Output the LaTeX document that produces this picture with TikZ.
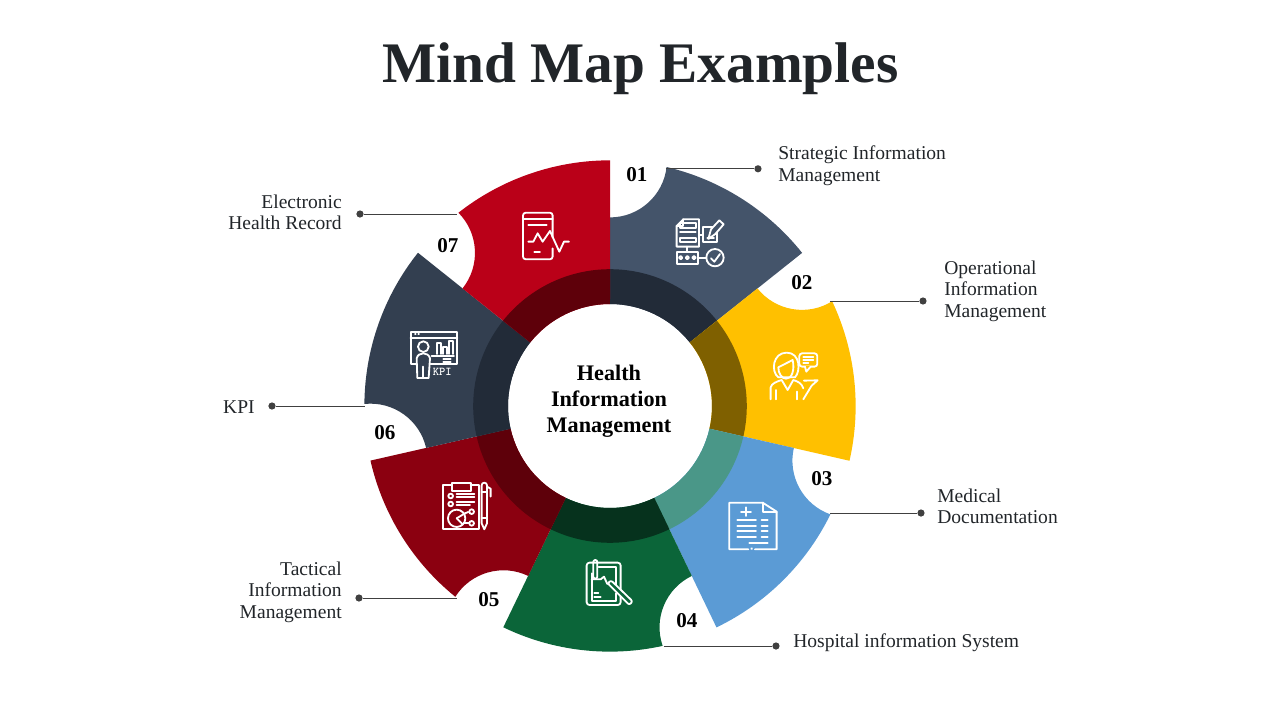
\documentclass[tikz,border=0pt]{standalone}
\usepackage{fontspec}
\setmainfont{Liberation Serif}
\definecolor{segone}{HTML}{44546A}
\definecolor{segtwo}{HTML}{FFC000}
\definecolor{segthree}{HTML}{5B9BD5}
\definecolor{segfour}{HTML}{0B6539}
\definecolor{segfive}{HTML}{8B0010}
\definecolor{segsix}{HTML}{333F50}
\definecolor{segseven}{HTML}{BA0018}
\definecolor{ringone}{HTML}{222B38}
\definecolor{ringtwo}{HTML}{7F6000}
\definecolor{ringthree}{HTML}{4A9788}
\definecolor{ringfour}{HTML}{06321D}
\definecolor{ringfive}{HTML}{5E000A}
\definecolor{inkdark}{HTML}{212529}
\definecolor{leadgrey}{HTML}{404040}
\tikzset{
	leader/.style={leadgrey,line width=0.7pt},
	leaddot/.style={circle,fill=leadgrey,inner sep=0pt,minimum size=0.18cm},
	numlabel/.style={font=\fontsize{15}{18}\selectfont\bfseries,text=black},
	sidelabel/.style={font=\fontsize{13.9}{15.3}\selectfont,text=inkdark},
	iconat/.style 2 args={shift={({(#1-610)/40},{(406-#2)/40})},x=1cm/120,y=-1cm/120,draw=white,line width=1.3pt,line join=round,line cap=round},
}
\newcommand{\wheelseg}[3]{
	\fill[#2] (#1:4.715) arc[start angle=#1+180,end angle=#1+263.35,radius=1.425] arc[start angle=#1-13.3,end angle=#1-51.43,radius=6.14] -- (#1-51.43:2.55) arc[start angle=#1-51.43,end angle=#1,radius=2.55] -- cycle;
	\fill[#3] (#1:2.55) arc[start angle=#1,end angle=#1-51.43,radius=2.55] -- (#1-51.43:3.42) arc[start angle=#1-51.43,end angle=#1,radius=3.42] -- cycle;
}
\begin{document}
\begin{tikzpicture}
	\useasboundingbox (-15.25,10.15) rectangle (16.75,-7.85);
	\node[font=\fontsize{40.8}{48}\selectfont\bfseries,text=inkdark] (title) at (0.76,8.44) {Mind Map Examples};
	% wheel
	\wheelseg{90}{segone}{ringone}
	\wheelseg{38.57}{segtwo}{ringtwo}
	\wheelseg{-12.86}{segthree}{ringthree}
	\wheelseg{-64.29}{segfour}{ringfour}
	\wheelseg{-115.71}{segfive}{ringfive}
	\wheelseg{-167.14}{segsix}{ringone}
	\wheelseg{-218.57}{segseven}{ringfive}
	\node[align=center,font=\fontsize{15.8}{18.5}\selectfont\bfseries,text=black] (hub) at (-0.025,0.11) {Health\\Information\\Management};
	% numbers
	\node[numlabel] (num1) at (0.67,5.78) {01};
	\node[numlabel] (num2) at (4.8,3.08) {02};
	\node[numlabel] (num3) at (5.3,-1.82) {03};
	\node[numlabel] (num4) at (1.925,-5.37) {04};
	\node[numlabel] (num5) at (-3.025,-4.84) {05};
	\node[numlabel] (num6) at (-5.625,-0.66) {06};
	\node[numlabel] (num7) at (-4.05,4.01) {07};
	% leaders
	\coordinate (start1) at (1.4,5.93);
	\coordinate (start2) at (5.5,2.625);
	\coordinate (start3) at (5.5,-2.675);
	\coordinate (start4) at (1.35,-6);
	\coordinate (start5) at (-3.825,-4.8);
	\coordinate (start6) at (-6.125,0);
	\coordinate (start7) at (-3.825,4.8);
	\node[leaddot] (dot1) at (3.7,5.93) {};
	\node[leaddot] (dot2) at (7.825,2.625) {};
	\node[leaddot] (dot3) at (7.775,-2.675) {};
	\node[leaddot] (dot4) at (4.15,-6) {};
	\node[leaddot] (dot5) at (-6.275,-4.8) {};
	\node[leaddot] (dot6) at (-8.45,0) {};
	\node[leaddot] (dot7) at (-6.25,4.8) {};
	\draw[leader] (start1) -- (dot1);
	\draw[leader] (start2) -- (dot2);
	\draw[leader] (start3) -- (dot3);
	\draw[leader] (start4) -- (dot4);
	\draw[leader] (start5) -- (dot5);
	\draw[leader] (start6) -- (dot6);
	\draw[leader] (start7) -- (dot7);
	% labels
	\node[sidelabel,anchor=west,align=left,inner sep=0pt] (lab1) at (4.2,6.01) {Strategic Information\\Management};
	\node[sidelabel,anchor=west,align=left,inner sep=0pt] (lab2) at (8.35,2.875) {Operational\\Information\\Management};
	\node[sidelabel,anchor=west,align=left,inner sep=0pt] (lab3) at (8.175,-2.51) {Medical\\Documentation};
	\node[sidelabel,anchor=west,align=left,inner sep=0pt] (lab4) at (4.575,-5.925) {Hospital information System};
	\node[sidelabel,anchor=east,align=right,inner sep=0pt] (lab5) at (-6.7,-4.65) {Tactical\\Information\\Management};
	\node[sidelabel,anchor=east,align=right,inner sep=0pt] (lab6) at (-8.875,-0.025) {KPI};
	\node[sidelabel,anchor=east,align=right,inner sep=0pt] (lab7) at (-6.7,4.84) {Electronic\\Health Record};
	% icon 1
	\begin{scope}[iconat={600}{140}]
		\draw (230,258) -- (250,238) -- (297,238) -- (297,320) -- (230,320) -- cycle;
		\draw (250,238) -- (250,258) -- (230,258);
		\draw (240,250) rectangle (287,265);
		\draw (240,275) -- (287,275);
		\draw (240,295) rectangle (287,306);
		\draw (297,285) -- (308,285);
		\draw (308,262) rectangle (352,305);
		\draw[fill=segone] (325,297) -- (333,268) -- (358,241) -- (371,253) -- (346,282) -- cycle;
		\draw (322,293) -- (342,293);
		\draw (262,320) -- (262,335);
		\draw (230,335) rectangle (295,372);
		\draw (242,353) circle (5);
		\draw (262,353) circle (5);
		\draw (282,353) circle (5);
		\draw (295,353) -- (319,353);
		\draw (345,353) circle (26);
		\draw (333,355) -- (343,365) -- (360,342);
	\end{scope}
	% icon 2
	\begin{scope}[iconat={600}{140}]
		\draw (535,712) .. controls (512,695) and (518,638) .. (560,638) .. controls (602,638) and (602,695) .. (585,712) -- cycle;
		\draw (535,682) -- (578,660) .. controls (585,690) and (575,718) .. (558,716) .. controls (545,716) and (535,700) .. (535,682);
		\draw (512,778) -- (512,742) .. controls (515,730) and (530,725) .. (545,720) -- (563,750) -- (580,720) .. controls (595,725) and (605,730) .. (610,745);
		\draw (527,750) -- (527,778);
		\draw (590,755) -- (590,778);
		\draw (610,778) -- (635,737) -- (653,721) -- (612,722);
		\draw[rounded corners=2pt] (598,640) rectangle (652,680);
		\draw[fill=segtwo,draw=segtwo] (619,680) -- (630,680);
		\draw (615,680) -- (619,695) -- (632,680);
		\draw (610,650) -- (640,650);
		\draw (610,660) -- (640,660);
		\draw (610,669) -- (625,669);
	\end{scope}
	% icon 3
	\begin{scope}[iconat={640}{430}]
		\draw (325,358) -- (268,358) -- (268,218) -- (368,218) -- (410,245) -- (410,358) -- (345,358);
		\draw (335,356) circle (1);
		\draw (368,218) -- (368,245) -- (410,245);
		\draw (303,245) -- (333,245);
		\draw (318,232) -- (318,258);
		\draw (292,270) -- (348,270);
		\draw (292,288) -- (348,288);
		\draw (292,304) -- (348,304);
		\draw (292,320) -- (348,320);
		\draw (365,270) -- (383,270);
		\draw (365,288) -- (383,288);
		\draw (365,304) -- (383,304);
		\draw (365,320) -- (383,320);
		\draw (328,338) -- (383,338);
	\end{scope}
	% icon 4
	\begin{scope}[iconat={360}{430}]
		\draw[rounded corners=2pt] (680,398) rectangle (782,525);
		\draw (716,410) -- (768,410) -- (768,475);
		\draw (695,430) -- (695,512) -- (768,512) -- (768,490);
		\draw (695,448) -- (722,448) -- (732,440) -- (742,462);
		\draw (700,440) -- (700,396) arc[start angle=180,end angle=360,radius=6] -- (712,440) arc[start angle=0,end angle=180,radius=6];
		\draw (703,489) -- (715,489);
		\draw (703,500) -- (722,500);
		\draw[fill=segfour,rounded corners=1.5pt] (743,460) -- (753,451) -- (818,514) -- (808,525) -- cycle;
	\end{scope}
	% icon 5
	\begin{scope}[iconat={360}{430}]
		\draw (275,165) -- (250,165) -- (250,298) -- (357,298) -- (357,165) -- (332,165);
		\draw (275,158) rectangle (332,183);
		\draw (272,198) circle (7);
		\draw (272,222) circle (7);
		\draw (290,193) -- (343,193);
		\draw (290,200) -- (343,200);
		\draw (290,217) -- (343,217);
		\draw (290,225) -- (330,225);
		\draw (290,265) circle (26);
		\draw (290,265) -- (315,250);
		\draw (290,265) -- (308,283);
		\draw (315,250) -- (325,246);
		\draw (312,280) -- (327,280);
		\draw (335,245) circle (7);
		\draw (335,280) circle (7);
		\draw (365,280) -- (365,166) arc[start angle=180,end angle=360,radius=8] -- (381,280) -- (373,298) -- cycle;
		\draw (365,185) -- (381,185);
		\draw (365,265) -- (381,265);
		\draw (381,170) -- (392,176) -- (392,200);
	\end{scope}
	% icon 6
	\begin{scope}[iconat={360}{150}]
		\draw (170,642) -- (152,642) -- (152,545) -- (292,545) -- (292,642) -- (212,642);
		\draw (152,565) -- (292,565);
		\draw (165,553) -- (167,553);
		\draw (175,553) -- (177,553);
		\draw (190,590) circle (16);
		\draw (170,625) .. controls (175,605) and (205,605) .. (210,625) -- (206,684) -- (172,684) -- cycle;
		\draw (190,650) -- (190,684);
		\draw (230,612) -- (230,578) -- (243,578) -- (243,612);
		\draw (250,612) -- (250,590) -- (262,590) -- (262,612);
		\draw (268,612) -- (268,572) -- (280,572) -- (280,612);
		\draw (215,618) -- (282,618);
		\draw (250,628) -- (272,628);
		\draw (250,636) -- (272,636);
		\node[text=white,inner sep=0pt,font=\ttfamily\bfseries\fontsize{8.5}{9}\selectfont] (kpi) at (247,665) {KPI};
	\end{scope}
	% icon 7
	\begin{scope}[iconat={360}{150}]
		\draw[rounded corners=2pt] (578,262) -- (578,188) -- (489,188) -- (489,328) -- (578,328) -- (578,295);
		\draw (489,208) -- (578,208);
		\draw (505,225) -- (560,225);
		\draw (505,275) -- (520,275) -- (533,250) -- (548,275) -- (570,243) -- (598,305) -- (612,275) -- (627,275);
		\draw (523,305) -- (540,305);
	\end{scope}
\end{tikzpicture}
\end{document}
